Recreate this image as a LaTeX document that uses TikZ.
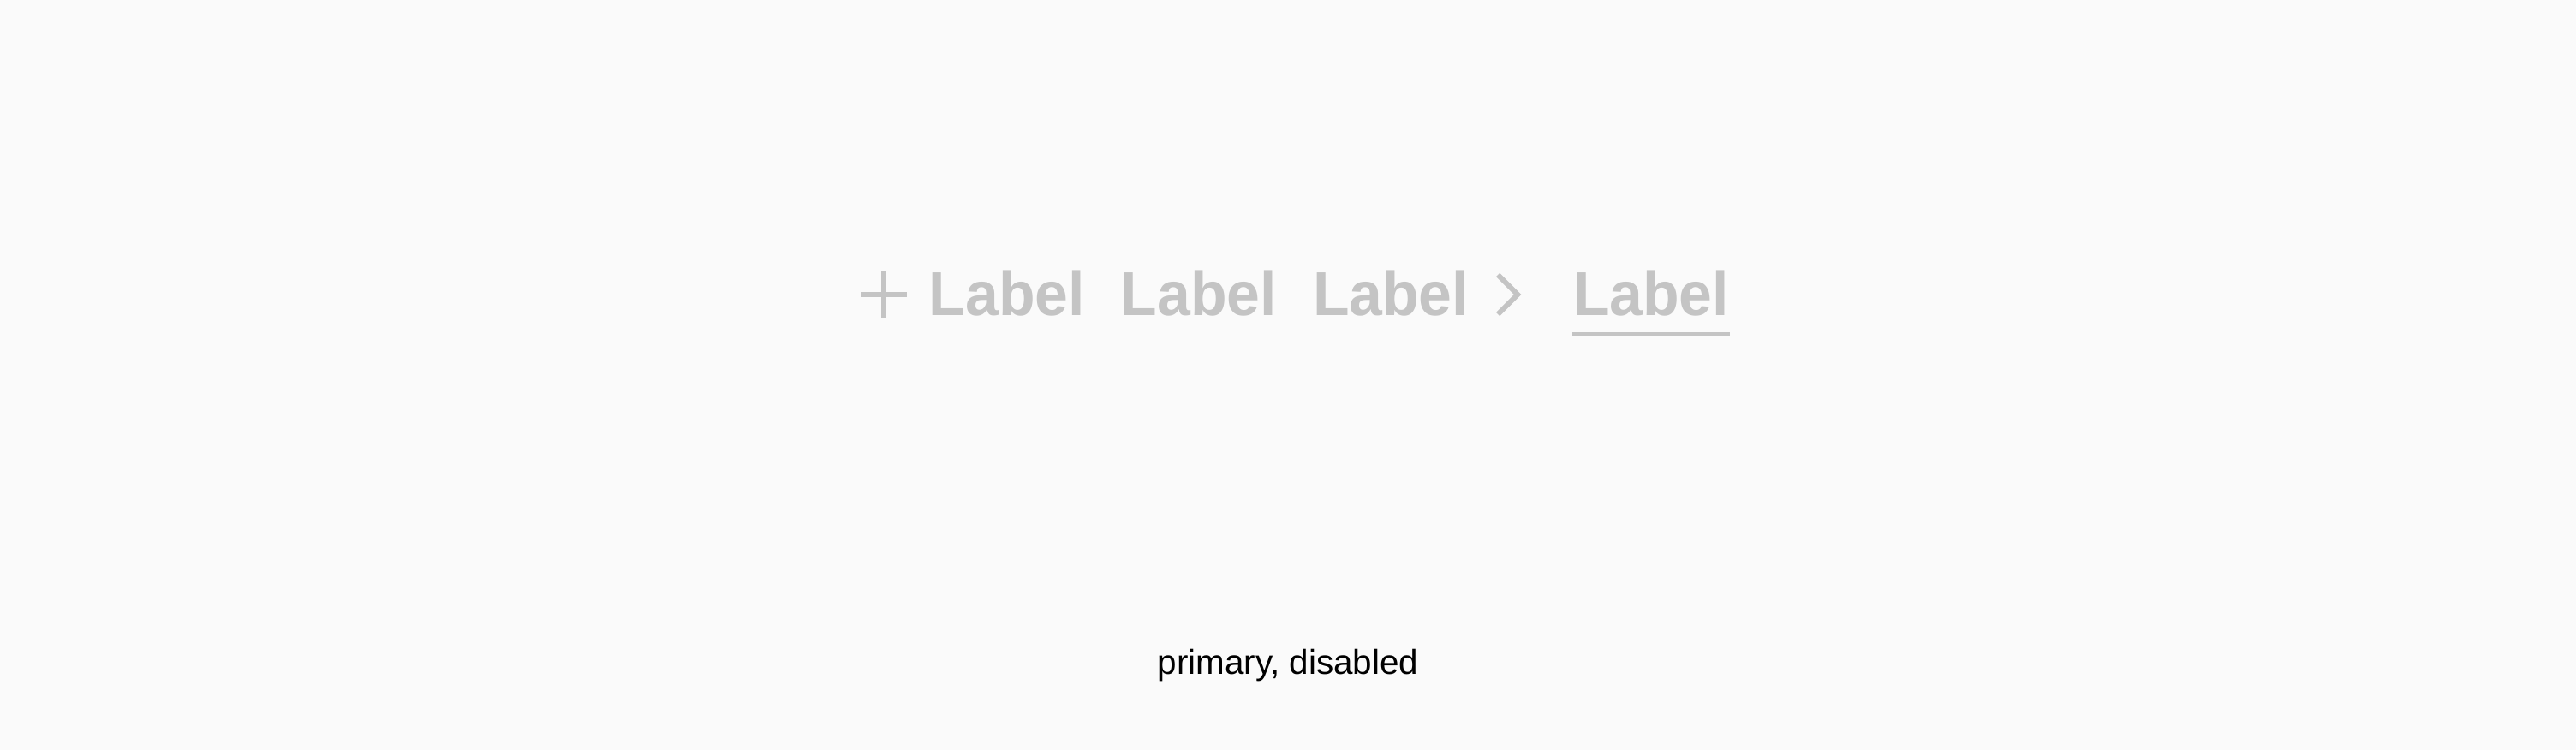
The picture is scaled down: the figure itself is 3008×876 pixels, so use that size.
\documentclass[tikz,border=0pt]{standalone}
\usepackage{fontspec}
\setmainfont{Liberation Sans}
\newfontfamily\btnfont[FakeStretch=0.96]{Liberation Sans}
\definecolor{bgpaper}{HTML}{FAFAFA}
\definecolor{mutedgray}{HTML}{C4C4C4}
\begin{document}
\begin{tikzpicture}[x=0.25pt,y=-0.25pt]
        		\tikzstyle{btnlabel}=[inner sep=0pt,anchor=base,text=mutedgray,font=\btnfont\bfseries\fontsize{18.15pt}{20pt}\selectfont]
        		\tikzstyle{icon}=[draw=mutedgray,line width=1.5pt]
        		\tikzstyle{caption}=[inner sep=0pt,anchor=base,text=black,font=\fontsize{10.1pt}{12pt}\selectfont]
        		\fill[bgpaper] (0,0) rectangle (3008,876);
        		\useasboundingbox (0,0) rectangle (3008,876);
       			\begin{scope}
			        % plus icon
			        \coordinate (plus) at (1032,344);
			        \draw[icon] ([xshift=-27*0.25pt]plus) -- ([xshift=27*0.25pt]plus);
			        \draw[icon] ([yshift=27*0.25pt]plus) -- ([yshift=-27*0.25pt]plus);
			        \node [btnlabel] (l1) at (1176,369) {Label};
			        \node [btnlabel] (l2) at (1400,369) {Label};
			        \node [btnlabel] (l3) at (1624,369) {Label};
			        % chevron icon
			        \coordinate (ch1) at (1749,321);
			        \coordinate (ch2) at (1772,344);
			        \coordinate (ch3) at (1749,367);
			        \draw[icon,miter limit=4] (ch1) -- (ch2) -- (ch3);
			        \node [btnlabel] (l4) at (1928,369) {Label};
			        \coordinate (u1) at (1836,390);
			        \coordinate (u2) at (2020,390);
			        \draw[draw=mutedgray,line width=1pt] (u1) -- (u2);
		        \end{scope}
		        \node [caption] (cap) at (1504,787) {primary, disabled};
		    \end{tikzpicture}
\end{document}
